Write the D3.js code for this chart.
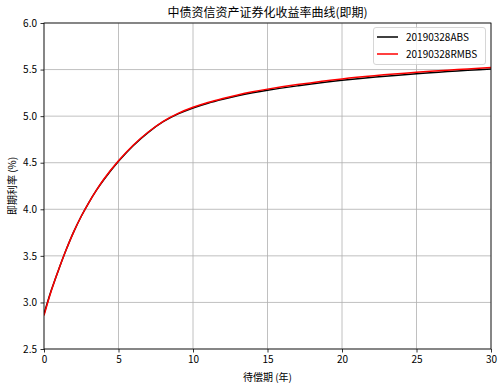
<!DOCTYPE html>
<html><head><meta charset="utf-8">
<script src="https://cdn.jsdelivr.net/npm/d3@7"></script>
<style>
body{margin:0;background:#fff;}
text{font-family:"Noto Sans CJK SC","DejaVu Sans",sans-serif;}
</style>
</head><body>
<svg id="c" width="503" height="391"></svg>
<script>
const title = "中债资信资产证券化收益率曲线(即期)";
const xLabel = "待偿期 (年)";
const yLabel = "即期利率 (%)";
const seriesNames = ["20190328ABS", "20190328RMBS"];
const tenors = [0, 0.25, 0.5, 0.75, 1, 1.5, 2, 2.5, 3, 3.5, 4, 5, 6, 7, 8, 9, 10, 11, 12, 13, 14, 15, 17, 20, 25, 30];
const absValues  = [2.875, 3.01, 3.135, 3.25, 3.36, 3.57, 3.76, 3.925, 4.07, 4.2, 4.315, 4.515, 4.685, 4.826, 4.94, 5.024, 5.088, 5.139, 5.181, 5.218, 5.25, 5.278, 5.325, 5.385, 5.455, 5.505];
const rmbsValues = [2.86, 3.0, 3.13, 3.25, 3.36, 3.57, 3.76, 3.925, 4.07, 4.2, 4.32, 4.52, 4.69, 4.83, 4.945, 5.03, 5.095, 5.147, 5.19, 5.228, 5.261, 5.29, 5.339, 5.4, 5.47, 5.522];
const xTicks = [0, 5, 10, 15, 20, 25, 30];
const yTicks = [2.5, 3.0, 3.5, 4.0, 4.5, 5.0, 5.5, 6.0];

const svg = d3.select("#c");
const L = 44, R = 491, T = 23, B = 349;
const x = d3.scaleLinear().domain([0, 30]).range([L, R]);
const y = d3.scaleLinear().domain([2.5, 6.0]).range([B, T]);

// grid
svg.append("g").selectAll("line").data(xTicks).join("line")
  .attr("x1", d => x(d)).attr("x2", d => x(d)).attr("y1", T).attr("y2", B)
  .attr("stroke", "#b0b0b0").attr("stroke-width", 0.8);
svg.append("g").selectAll("line").data(yTicks).join("line")
  .attr("x1", L).attr("x2", R).attr("y1", d => y(d)).attr("y2", d => y(d))
  .attr("stroke", "#b0b0b0").attr("stroke-width", 0.8);

// axes
const xAxis = svg.append("g").attr("transform", `translate(0,${B})`)
  .call(d3.axisBottom(x).tickValues(xTicks).tickFormat(d3.format("d")).tickSize(3.5).tickPadding(3.5));
const yAxis = svg.append("g").attr("transform", `translate(${L},0)`)
  .call(d3.axisLeft(y).tickValues(yTicks).tickFormat(d3.format(".1f")).tickSize(3.5).tickPadding(3.5));
[xAxis, yAxis].forEach(g => {
  g.select(".domain").remove();
  g.selectAll("text").attr("font-size", 10).attr("fill", "#000")
    .style("font-family", '"Noto Sans CJK SC","DejaVu Sans",sans-serif');
  g.selectAll("line").attr("stroke", "#000").attr("stroke-width", 0.8);
});

svg.append("clipPath").attr("id", "clip").append("rect")
  .attr("x", L).attr("y", T).attr("width", R - L).attr("height", B - T);

const line = d3.line().x(d => x(d[0])).y(d => y(d[1])).curve(d3.curveCatmullRom.alpha(0.5));
const dataAbs = tenors.map((t, i) => [t, absValues[i]]);
const dataRmbs = tenors.map((t, i) => [t, rmbsValues[i]]);
const colors = ["#000000", "#ff0000"];
const g = svg.append("g").attr("clip-path", "url(#clip)");
g.append("path").datum(dataAbs).attr("d", line).attr("fill", "none").attr("stroke", colors[0]).attr("stroke-width", 1.5);
g.append("path").datum(dataRmbs).attr("d", line).attr("fill", "none").attr("stroke", colors[1]).attr("stroke-width", 1.5);

// frame
svg.append("rect").attr("x", L).attr("y", T).attr("width", R - L).attr("height", B - T)
  .attr("fill", "none").attr("stroke", "#000").attr("stroke-width", 0.8);

// labels
svg.append("text").attr("x", (L + R) / 2).attr("y", 17).attr("text-anchor", "middle")
  .attr("font-size", 12).attr("fill", "#000").text(title);
svg.append("text").attr("x", (L + R) / 2).attr("y", 381).attr("text-anchor", "middle")
  .attr("font-size", 10).attr("fill", "#000").text(xLabel);
svg.append("text").attr("transform", `translate(16,${(T + B) / 2}) rotate(-90)`).attr("text-anchor", "middle")
  .attr("font-size", 10).attr("fill", "#000").text(yLabel);

// legend
const lg = svg.append("g");
lg.append("rect").attr("x", 373.5).attr("y", 27.5).attr("width", 112).attr("height", 37).attr("rx", 2.5)
  .attr("fill", "#fff").attr("fill-opacity", 0.8).attr("stroke", "#cccccc").attr("stroke-width", 0.8);
seriesNames.forEach((n, i) => {
  const yy = 37 + i * 17;
  lg.append("line").attr("x1", 377).attr("x2", 398).attr("y1", yy).attr("y2", yy)
    .attr("stroke", colors[i]).attr("stroke-width", 1.5);
  lg.append("text").attr("x", 406).attr("y", yy + 3.5).attr("font-size", 10).attr("fill", "#000").text(n);
});
</script>
</body></html>
